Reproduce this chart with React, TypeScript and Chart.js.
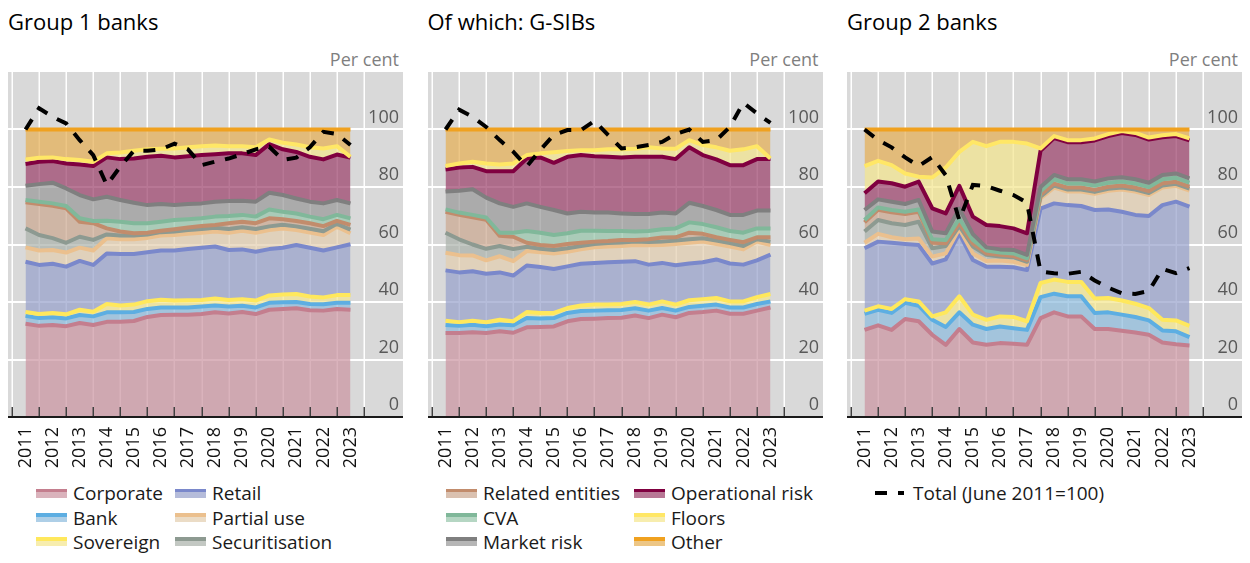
import React, { useEffect, useRef } from 'react';
import { Chart, registerables } from 'chart.js';

Chart.register(...registerables);

const FONT = '"Open Sans", "Noto Sans", sans-serif';

// Half-yearly observations, June 2011 ... June 2023 (position on a year axis)
const periods = [2011.5, 2012, 2012.5, 2013, 2013.5, 2014, 2014.5, 2015, 2015.5, 2016, 2016.5, 2017, 2017.5, 2018, 2018.5, 2019, 2019.5, 2020, 2020.5, 2021, 2021.5, 2022, 2022.5, 2023, 2023.5];
const yearLabels = [2011, 2012, 2013, 2014, 2015, 2016, 2017, 2018, 2019, 2020, 2021, 2022, 2023];
const yearBounds = [2011, 2012, 2013, 2014, 2015, 2016, 2017, 2018, 2019, 2020, 2021, 2022, 2023, 2024];
const yTicks = [0, 20, 40, 60, 80, 100];

// Cumulative shares (top of each band, per cent), bottom to top
const otherTop = [100, 100, 100, 100, 100, 100, 100, 100, 100, 100, 100, 100, 100, 100, 100, 100, 100, 100, 100, 100, 100, 100, 100, 100, 100];

// ---- Group 1 banks
const g1Corporate = [32.4, 31.7, 32.0, 31.6, 32.7, 32.0, 33.1, 33.1, 33.4, 34.8, 35.5, 35.6, 35.6, 35.8, 36.4, 36.0, 36.5, 35.8, 37.3, 37.6, 37.8, 37.1, 37.0, 37.6, 37.3];
const g1Bank = [35.2, 34.4, 34.7, 34.3, 35.5, 35.0, 36.4, 36.4, 36.5, 37.6, 38.1, 38.1, 38.1, 38.4, 38.8, 38.4, 38.7, 38.1, 39.7, 39.9, 40.0, 39.3, 39.2, 39.7, 39.7];
const g1Sovereign = [36.5, 35.8, 36.2, 35.7, 37.3, 36.6, 39.3, 38.8, 39.1, 40.3, 40.8, 40.5, 40.6, 40.7, 41.2, 40.7, 41.0, 40.5, 42.3, 42.6, 42.8, 41.9, 41.6, 42.4, 42.4];
const g1Retail = [54.0, 52.9, 53.3, 52.3, 54.3, 52.9, 56.9, 56.7, 56.7, 57.3, 57.9, 57.9, 58.4, 58.9, 59.3, 58.1, 58.3, 57.5, 58.4, 58.9, 59.8, 58.9, 57.9, 59.0, 60.1];
const g1Partial = [59.0, 57.9, 58.1, 57.2, 58.9, 57.9, 62.2, 61.8, 61.8, 62.3, 63.1, 63.3, 63.7, 64.1, 64.5, 64.1, 64.8, 64.1, 65.0, 65.6, 65.0, 64.2, 63.3, 66.2, 63.9];
const g1Securitisation = [65.6, 63.3, 62.2, 60.6, 62.7, 61.6, 63.5, 63.1, 63.1, 63.5, 64.3, 64.5, 65.0, 65.4, 65.8, 65.4, 66.0, 65.4, 66.3, 66.9, 66.3, 65.5, 64.6, 67.2, 65.2];
const g1Related = [74.7, 74.1, 73.5, 72.6, 67.9, 67.4, 65.6, 64.5, 63.9, 64.1, 64.8, 65.3, 65.9, 66.4, 66.8, 67.4, 67.9, 67.4, 69.1, 68.8, 68.2, 67.4, 66.4, 68.2, 66.8];
const g1CVA = [75.5, 74.9, 74.3, 73.4, 69.1, 68.2, 68.3, 67.9, 67.4, 67.4, 67.9, 68.5, 68.8, 69.1, 69.7, 69.9, 70.3, 69.7, 72.2, 71.4, 70.8, 69.7, 68.8, 70.3, 69.1];
const g1Market = [80.4, 81.0, 81.5, 79.5, 77.2, 75.7, 76.6, 75.5, 74.5, 73.7, 74.1, 73.7, 74.1, 74.3, 74.9, 75.1, 75.2, 74.9, 78.0, 77.2, 76.0, 74.9, 74.3, 75.5, 74.3];
const g1OpRisk = [88.0, 88.8, 89.0, 88.2, 87.8, 87.3, 90.3, 89.7, 89.9, 90.5, 90.9, 90.3, 90.7, 91.1, 91.4, 91.7, 91.7, 91.1, 94.9, 93.1, 92.2, 90.5, 89.6, 91.3, 90.2];
const g1Floors = [89.6, 90.2, 90.3, 89.7, 89.4, 88.8, 91.7, 92.0, 92.6, 93.1, 93.3, 93.4, 93.8, 94.2, 94.4, 94.2, 94.2, 93.8, 96.5, 95.4, 94.8, 93.8, 93.4, 94.2, 90.5];
const g1Total = [100, 107.4, 104.4, 102.1, 96.3, 91.1, 80.7, 87.1, 92.6, 92.6, 93.1, 95.1, 93.1, 87.6, 88.8, 89.9, 91.4, 93.1, 94.0, 89.4, 90.2, 93.8, 99.2, 98.4, 94.6];

// ---- Of which: G-SIBs
const g2Corporate = [29.2, 29.2, 29.5, 29.2, 29.8, 29.3, 31.2, 31.3, 31.5, 33.3, 34.1, 34.2, 34.4, 34.5, 35.3, 34.4, 35.6, 34.7, 36.2, 36.5, 37.0, 35.9, 35.9, 37.0, 38.1];
const g2Bank = [32.0, 31.7, 32.1, 31.6, 32.2, 31.9, 34.4, 34.3, 34.4, 36.2, 36.9, 37.0, 37.1, 37.2, 37.8, 37.0, 37.9, 37.0, 38.3, 38.7, 39.1, 38.1, 38.1, 39.3, 40.2];
const g2Sovereign = [33.5, 33.0, 33.5, 33.0, 33.8, 33.3, 36.5, 36.2, 36.2, 37.9, 38.8, 39.1, 39.1, 39.3, 40.0, 39.1, 40.2, 39.1, 40.6, 41.0, 41.4, 40.2, 40.2, 41.7, 42.8];
const g2Retail = [51.0, 50.3, 50.7, 49.8, 50.3, 49.2, 52.7, 52.2, 51.5, 52.4, 53.3, 53.6, 53.8, 54.0, 54.2, 53.0, 53.6, 52.8, 53.4, 53.8, 54.8, 53.4, 53.0, 54.5, 56.5];
const g2Partial = [57.1, 56.3, 56.2, 54.5, 55.9, 54.2, 57.7, 57.3, 56.9, 57.5, 58.3, 59.0, 59.3, 59.5, 59.8, 59.7, 59.8, 60.2, 60.6, 61.0, 60.2, 59.3, 58.3, 61.0, 59.8];
const g2Securitisation = [64.1, 61.8, 60.0, 58.5, 59.5, 58.4, 59.2, 58.5, 58.1, 58.7, 59.5, 60.2, 60.5, 60.7, 61.0, 60.9, 61.0, 61.4, 61.8, 62.2, 61.4, 60.5, 59.5, 61.8, 61.0];
const g2Related = [71.4, 70.3, 69.5, 68.6, 63.0, 62.7, 60.6, 59.8, 59.5, 60.2, 60.6, 61.0, 61.2, 61.6, 61.6, 61.8, 62.4, 62.5, 64.1, 63.7, 62.5, 61.6, 60.8, 62.5, 62.5];
const g2CVA = [72.2, 71.1, 70.3, 69.4, 64.1, 64.1, 64.7, 64.1, 63.3, 63.9, 64.8, 64.8, 64.7, 64.7, 64.5, 64.7, 65.3, 65.6, 67.7, 67.1, 66.0, 64.7, 64.1, 65.6, 65.6];
const g2Market = [78.4, 78.7, 79.2, 76.3, 74.3, 73.1, 74.3, 73.1, 72.0, 70.8, 71.4, 71.1, 71.1, 70.8, 70.6, 70.6, 71.1, 70.8, 74.5, 73.4, 72.0, 70.3, 70.3, 71.8, 71.8];
const g2OpRisk = [86.1, 86.8, 87.0, 85.5, 85.5, 85.5, 89.9, 90.3, 88.4, 90.5, 91.1, 90.7, 90.5, 90.3, 90.5, 90.5, 90.5, 89.7, 93.8, 91.1, 89.6, 87.6, 87.6, 89.7, 89.7];
const g2Floors = [87.3, 88.2, 88.8, 88.2, 87.8, 88.2, 91.1, 91.7, 92.1, 92.5, 92.8, 92.8, 93.1, 93.1, 93.3, 93.8, 93.4, 93.3, 96.3, 94.6, 93.8, 92.6, 93.1, 94.2, 89.9];
const g2Total = [100, 106.9, 104.4, 100.9, 96.3, 92.3, 87.1, 92.9, 98.1, 99.8, 99.8, 103.0, 98.1, 93.4, 93.8, 94.6, 95.7, 98.4, 100.0, 95.7, 96.3, 100.9, 109.3, 105.6, 102.3];

// ---- Group 2 banks
const g3Corporate = [30.3, 31.9, 30.3, 34.1, 33.3, 28.6, 25.1, 30.6, 25.9, 25.1, 25.7, 25.5, 25.1, 34.4, 36.4, 35.0, 35.0, 30.6, 30.6, 30.0, 29.4, 28.6, 25.9, 25.3, 24.9];
const g3Bank = [35.9, 37.3, 36.2, 39.7, 38.7, 33.8, 31.3, 36.4, 32.1, 30.6, 31.5, 30.9, 30.3, 41.7, 42.9, 42.0, 42.0, 36.2, 36.4, 35.6, 34.8, 33.6, 30.1, 29.8, 27.8];
const g3Sovereign = [37.0, 38.5, 37.6, 41.0, 40.2, 35.0, 36.4, 42.0, 35.6, 33.8, 35.0, 34.8, 33.3, 46.6, 47.8, 47.0, 47.0, 41.2, 41.4, 40.5, 39.4, 37.9, 33.8, 33.6, 31.7];
const g3Retail = [58.7, 61.0, 60.6, 60.2, 59.8, 53.4, 54.8, 63.9, 54.6, 52.3, 52.3, 52.1, 51.1, 72.5, 74.3, 73.7, 73.4, 72.0, 72.2, 71.4, 70.3, 69.9, 73.7, 74.9, 73.2];
const g3Partial = [60.6, 63.7, 62.5, 61.8, 62.1, 55.8, 56.9, 65.5, 56.9, 54.3, 54.4, 54.0, 52.9, 76.0, 79.8, 78.4, 78.4, 77.6, 78.7, 79.1, 78.4, 77.2, 79.8, 80.4, 78.7];
const g3Securitisation = [64.5, 68.5, 67.4, 66.8, 67.9, 58.7, 59.5, 66.5, 59.3, 56.4, 55.8, 55.6, 54.0, 76.6, 80.5, 79.1, 79.1, 78.3, 79.4, 79.8, 79.1, 77.9, 80.5, 81.1, 79.4];
const g3Related = [67.7, 72.1, 71.2, 70.6, 71.4, 60.6, 60.4, 67.5, 60.4, 56.9, 56.4, 56.0, 54.6, 77.3, 81.2, 79.8, 79.8, 79.0, 80.1, 80.5, 79.8, 78.6, 81.3, 81.8, 80.1];
const g3CVA = [68.5, 72.9, 72.0, 71.4, 72.2, 61.8, 61.6, 69.0, 61.6, 57.9, 57.2, 56.9, 55.2, 78.5, 82.7, 81.2, 81.2, 80.5, 81.5, 81.9, 81.2, 80.0, 82.7, 83.2, 81.5];
const g3Market = [72.0, 75.7, 74.9, 74.1, 75.5, 64.5, 63.9, 72.5, 63.6, 59.0, 58.3, 58.1, 56.4, 80.0, 84.2, 82.7, 82.7, 81.9, 83.0, 83.4, 82.7, 81.5, 84.2, 84.7, 83.0];
const g3OpRisk = [77.8, 81.9, 81.3, 80.1, 81.9, 72.6, 70.8, 80.4, 69.7, 66.8, 66.4, 65.6, 63.9, 92.6, 97.0, 95.6, 95.6, 96.2, 97.7, 98.8, 98.1, 96.5, 97.3, 97.7, 96.2];
const g3Floors = [87.3, 89.1, 87.6, 84.7, 83.6, 83.3, 86.8, 92.2, 95.7, 94.2, 95.7, 95.7, 95.1, 93.4, 97.7, 96.3, 96.3, 96.9, 98.4, 99.5, 98.8, 97.2, 98.0, 98.4, 96.9];
const g3Total = [100, 96.3, 93.8, 90.3, 87.3, 90.4, 84.1, 68.5, 80.7, 80.3, 78.7, 77.2, 74.5, 50.6, 50.0, 49.8, 50.5, 47.5, 45.0, 43.0, 42.8, 43.8, 51.5, 50.0, 51.8];

// Series, bottom to top
const seriesNames = ['Corporate', 'Bank', 'Sovereign', 'Retail', 'Partial use', 'Securitisation', 'Related entities', 'CVA', 'Market risk', 'Operational risk', 'Floors', 'Other'];
const totalName = 'Total (June 2011=100)';

const lineColors: Record<string, string> = {
  'Corporate': '#c47e8e',
  'Bank': '#5daee2',
  'Sovereign': '#ffe85c',
  'Retail': '#7a88cb',
  'Partial use': '#ebc08e',
  'Securitisation': '#8d9a91',
  'Related entities': '#c28c6c',
  'CVA': '#80b89a',
  'Market risk': '#7f7f7f',
  'Operational risk': '#800040',
  'Floors': '#ffe766',
  'Other': '#f0a11f',
};
const fillColors: Record<string, string> = {
  'Corporate': 'rgba(203,147,160,0.7)',
  'Bank': 'rgba(140,186,221,0.7)',
  'Sovereign': 'rgba(244,229,140,0.7)',
  'Retail': 'rgba(150,160,203,0.7)',
  'Partial use': 'rgba(227,205,174,0.7)',
  'Securitisation': 'rgba(170,176,170,0.7)',
  'Related entities': 'rgba(203,167,143,0.7)',
  'CVA': 'rgba(149,196,170,0.7)',
  'Market risk': 'rgba(151,151,151,0.7)',
  'Operational risk': 'rgba(154,61,104,0.7)',
  'Floors': 'rgba(244,230,139,0.7)',
  'Other': 'rgba(230,174,81,0.7)',
};

const panels = [
  {
    title: 'Group 1 banks',
    levels: [g1Corporate, g1Bank, g1Sovereign, g1Retail, g1Partial, g1Securitisation, g1Related, g1CVA, g1Market, g1OpRisk, g1Floors, otherTop],
    total: g1Total,
    legendCols: [28, 167],
    legend: [['Corporate', 'Retail'], ['Bank', 'Partial use'], ['Sovereign', 'Securitisation']],
  },
  {
    title: 'Of which: G-SIBs',
    levels: [g2Corporate, g2Bank, g2Sovereign, g2Retail, g2Partial, g2Securitisation, g2Related, g2CVA, g2Market, g2OpRisk, g2Floors, otherTop],
    total: g2Total,
    legendCols: [18.5, 206.5],
    legend: [['Related entities', 'Operational risk'], ['CVA', 'Floors'], ['Market risk', 'Other']],
  },
  {
    title: 'Group 2 banks',
    levels: [g3Corporate, g3Bank, g3Sovereign, g3Retail, g3Partial, g3Securitisation, g3Related, g3CVA, g3Market, g3OpRisk, g3Floors, otherTop],
    total: g3Total,
    legendCols: [28, 220],
    legend: [[totalName]],
  },
];

const CANVAS_W = 395;
const CANVAS_H = 420;

const panelDecor = {
  id: 'panelDecor',
  beforeDraw(chart: any) {
    const { ctx, chartArea, scales, width } = chart;
    const top = chartArea.top;
    const bottom = chartArea.bottom;
    ctx.save();
    ctx.fillStyle = '#d9d9d9';
    ctx.fillRect(0, top, width, bottom - top);
    ctx.strokeStyle = '#ffffff';
    ctx.lineWidth = 1.5;
    yearBounds.forEach((yr) => {
      const x = Math.round(scales.x.getPixelForValue(yr)) + 0.25;
      ctx.beginPath();
      ctx.moveTo(x, top);
      ctx.lineTo(x, bottom);
      ctx.stroke();
    });
    ctx.lineWidth = 2;
    yTicks.forEach((v) => {
      if (v === 0) return;
      const y = Math.round(scales.y.getPixelForValue(v));
      ctx.beginPath();
      ctx.moveTo(0, y);
      ctx.lineTo(width, y);
      ctx.stroke();
    });
    ctx.restore();
  },
  afterDatasetsDraw(chart: any) {
    const { ctx, chartArea, scales, width } = chart;
    const bottom = chartArea.bottom;
    ctx.save();
    ctx.strokeStyle = '#404040';
    ctx.lineWidth = 1.5;
    yearBounds.forEach((yr) => {
      const x = Math.round(scales.x.getPixelForValue(yr)) + 0.25;
      ctx.beginPath();
      ctx.moveTo(x, bottom - 10);
      ctx.lineTo(x, bottom);
      ctx.stroke();
    });
    ctx.strokeStyle = '#1a1a1a';
    ctx.lineWidth = 2;
    ctx.beginPath();
    ctx.moveTo(0, bottom);
    ctx.lineTo(width, bottom);
    ctx.stroke();
    ctx.restore();
  },
};

function toXY(values: number[]) {
  return values.map((v, i) => ({ x: periods[i], y: v }));
}

function PanelChart({ levels, total }: { levels: number[][]; total: number[] }) {
  const ref = useRef<HTMLCanvasElement | null>(null);
  useEffect(() => {
    const datasets: any[] = [];
    datasets.push({
      label: totalName,
      data: toXY(total),
      borderColor: '#000000',
      borderWidth: 4,
      borderDash: [12, 11],
      fill: false,
      pointRadius: 0,
      tension: 0,
    });
    for (let k = seriesNames.length - 1; k >= 0; k--) {
      const name = seriesNames[k];
      datasets.push({
        label: name,
        data: toXY(levels[k]),
        borderColor: lineColors[name],
        backgroundColor: fillColors[name],
        borderWidth: 4,
        borderJoinStyle: 'round',
        fill: k === 0 ? 'origin' : '+1',
        pointRadius: 0,
        tension: 0,
      });
    }
    const chart = new Chart(ref.current as HTMLCanvasElement, {
      type: 'line',
      data: { datasets },
      options: {
        animation: false,
        responsive: false,
        maintainAspectRatio: false,
        devicePixelRatio: 1,
        events: [],
        layout: { padding: { left: 4, top: 20, right: 4, bottom: 0 } },
        plugins: {
          legend: { display: false },
          tooltip: { enabled: false },
          filler: { propagate: false, drawTime: 'beforeDatasetsDraw' },
        },
        elements: { point: { radius: 0 }, line: { tension: 0 } },
        scales: {
          x: {
            type: 'linear',
            min: 2011,
            max: 2024,
            grid: { display: false, drawTicks: false },
            border: { display: false },
            afterBuildTicks: (s: any) => {
              s.ticks = yearLabels.map((y) => ({ value: y + 0.5 }));
            },
            afterFit: (s: any) => {
              s.height = 55;
            },
            ticks: {
              autoSkip: false,
              minRotation: 90,
              maxRotation: 90,
              padding: 10,
              color: '#111111',
              font: { family: FONT, size: 18 },
              callback: (v: any) => String(Math.floor(Number(v))),
            },
          },
          y: {
            position: 'right',
            min: 0,
            max: 120,
            grid: { display: false, drawTicks: false },
            border: { display: false },
            afterBuildTicks: (s: any) => {
              s.ticks = yTicks.map((v) => ({ value: v }));
            },
            afterFit: (s: any) => {
              s.width = 35;
            },
            ticks: {
              crossAlign: 'far',
              labelOffset: -12,
              padding: 0,
              color: '#595959',
              font: { family: FONT, size: 18 },
              callback: (v: any) => String(v),
            },
          },
        },
      } as any,
      plugins: [panelDecor],
    });
    return () => chart.destroy();
  }, []);
  return <canvas ref={ref} width={CANVAS_W} height={CANVAS_H} style={{ display: 'block', width: CANVAS_W, height: CANVAS_H }} />;
}

function Swatch({ name }: { name: string }) {
  if (name === totalName) {
    return (
      <div style={{ position: 'relative', width: 30, height: 9, flex: '0 0 30px' }}>
        <div style={{ position: 'absolute', left: 0, top: 2.5, width: 12, height: 4, background: '#000' }} />
        <div style={{ position: 'absolute', left: 23, top: 2.5, width: 6, height: 4, background: '#000' }} />
      </div>
    );
  }
  return (
    <div style={{ width: 31, height: 9, flex: '0 0 31px', display: 'flex', flexDirection: 'column' }}>
      <div style={{ height: 3.5, background: lineColors[name] }} />
      <div style={{ height: 5.5, background: fillColors[name] }} />
    </div>
  );
}

// legend row centres (container coordinates); the last row is kept inside the visible page
const rowCenters = [485, 509.5, 533.5];

export default function App() {
  return (
    <div style={{ position: 'relative', width: 1234, height: 547, fontFamily: FONT }}>
      {panels.map((p, k) => {
        const left = k * 419.5;
        return (
          <div key={k} style={{ position: 'absolute', left, top: 0, width: CANVAS_W, height: 547 }}>
            <div style={{ position: 'absolute', left: 0, top: 1.5, fontSize: 22, lineHeight: '22px', color: '#000', whiteSpace: 'nowrap' }}>
              {p.title}
            </div>
            <div style={{ position: 'absolute', left: 0, top: 41.7, width: 391, textAlign: 'right', fontSize: 18, lineHeight: '18px', color: '#7f7f7f' }}>
              Per cent
            </div>
            <div style={{ position: 'absolute', left: 0, top: 44, width: CANVAS_W, height: CANVAS_H }}>
              <PanelChart levels={p.levels} total={p.total} />
            </div>
            {p.legend.map((row, r) =>
              row.map((name, c) => (
                <div
                  key={name}
                  style={{
                    position: 'absolute',
                    left: p.legendCols[c],
                    top: rowCenters[r] - 9,
                    height: 18,
                    display: 'flex',
                    alignItems: 'center',
                    whiteSpace: 'nowrap',
                  }}
                >
                  <Swatch name={name} />
                  <span style={{ marginLeft: name === totalName ? 8 : 6, fontSize: 19, lineHeight: '18px', color: '#1a1a1a' }}>{name}</span>
                </div>
              ))
            )}
          </div>
        );
      })}
    </div>
  );
}
